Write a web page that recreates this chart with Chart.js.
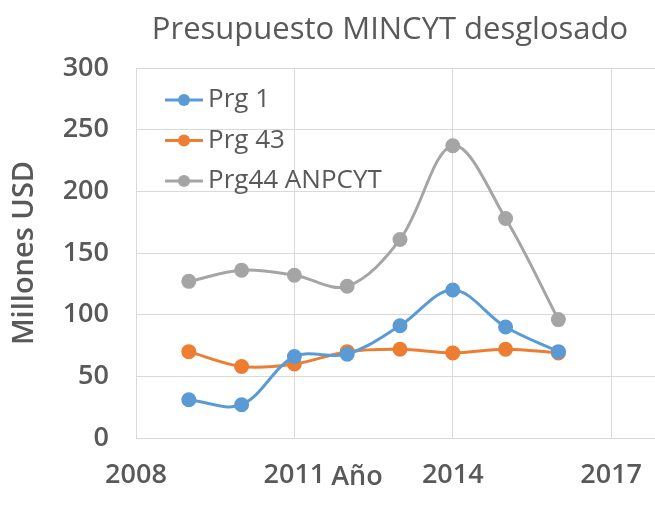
<!DOCTYPE html>
<html>
<head>
<meta charset="utf-8">
<script src="https://cdn.jsdelivr.net/npm/chart.js@4"></script>
<style>
  html, body { margin: 0; padding: 0; background: #fff; }
  #grafico { display: block; }
</style>
</head>
<body>
<canvas id="grafico" width="655" height="508"></canvas>
<script>
// Datos
const anios = [2009, 2010, 2011, 2012, 2013, 2014, 2015, 2016];
const prg1 = [31, 27, 66, 68, 91, 120, 90, 70];
const prg43 = [70, 58, 60, 70, 72, 69, 72, 69];
const prg44 = [127, 136, 132, 123, 161, 237, 178, 96];
const nombres = ['Prg 1', 'Prg 43', 'Prg44 ANPCYT'];
const colores = ['#5B9BD5', '#ED7D31', '#A5A5A5'];
const ticksX = [2008, 2011, 2014, 2017];
const titulo = 'Presupuesto MINCYT desglosado';
const tituloX = 'Año';
const tituloY = 'Millones USD';

const gris = '#595959';
const fuente = "'Open Sans', sans-serif";

const serie = (vals, i) => ({
  label: nombres[i],
  data: anios.map((a, k) => ({ x: a, y: vals[k] })),
  borderColor: colores[i],
  backgroundColor: colores[i],
  borderWidth: 3,
  pointRadius: 6,
  pointHoverRadius: 6,
  tension: 0.35
});

// Título, leyenda y título del eje X dibujados a mano
const extras = {
  id: 'extras',
  afterDraw(chart) {
    const ctx = chart.ctx;
    const area = chart.chartArea;
    ctx.save();
    ctx.fillStyle = gris;
    ctx.textBaseline = 'middle';
    ctx.textAlign = 'center';
    ctx.font = `400 31px ${fuente}`;
    ctx.fillText(titulo, 390, 30);

    ctx.font = `600 27px ${fuente}`;
    ctx.fillText(tituloX, 357, 477);

    ctx.textAlign = 'left';
    ctx.font = `400 26px ${fuente}`;
    chart.data.datasets.forEach((ds, i) => {
      const y = area.top + 32 + i * 40.5;
      ctx.strokeStyle = ds.borderColor;
      ctx.lineWidth = 3;
      ctx.beginPath();
      ctx.moveTo(165, y);
      ctx.lineTo(203, y);
      ctx.stroke();
      ctx.fillStyle = ds.borderColor;
      ctx.beginPath();
      ctx.arc(184, y, 6, 0, Math.PI * 2);
      ctx.fill();
      ctx.fillStyle = gris;
      ctx.fillText(ds.label, 208, y);
    });
    ctx.restore();
  }
};

new Chart(document.getElementById('grafico'), {
  type: 'line',
  data: {
    datasets: [serie(prg1, 0), serie(prg43, 1), serie(prg44, 2)]
  },
  options: {
    responsive: false,
    animation: false,
    layout: { autoPadding: false, padding: { top: 68, right: 0, bottom: 0, left: 0 } },
    plugins: {
      legend: { display: false },
      title: { display: false },
      tooltip: { enabled: false }
    },
    scales: {
      x: {
        type: 'linear',
        min: 2008,
        max: 2017.83,
        afterBuildTicks: s => { s.ticks = ticksX.map(v => ({ value: v })); },
        afterFit: s => {
          s.height = 70;
          s.paddingLeft = 0;
          s.paddingRight = 0;
        },
        grid: { color: '#D9D9D9', lineWidth: 1, drawTicks: false },
        border: { color: '#D9D9D9' },
        ticks: {
          padding: 21,
          maxRotation: 0,
          color: gris,
          font: { family: fuente, size: 27, weight: '600' },
          callback: v => String(v)
        }
      },
      y: {
        min: 0,
        max: 300,
        afterFit: s => { s.width = 136; },
        grid: { color: '#D9D9D9', lineWidth: 1, drawTicks: false },
        border: { color: '#D9D9D9' },
        ticks: {
          stepSize: 50,
          padding: 27,
          color: gris,
          font: { family: fuente, size: 27, weight: '600' }
        },
        title: {
          display: true,
          text: tituloY,
          color: gris,
          padding: { top: 7, bottom: 0 },
          font: { family: fuente, size: 29, weight: '600' }
        }
      }
    }
  },
  plugins: [extras]
});
</script>
</body>
</html>
